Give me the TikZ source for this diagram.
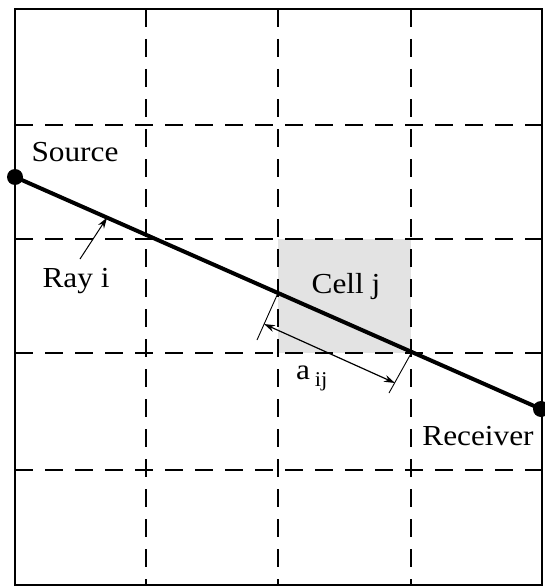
\documentclass[tikz,border=0pt]{standalone}
\usepackage{fontspec}
\setmainfont{Liberation Serif}
\newfontfamily\labelfont[FakeStretch=1.08]{Liberation Serif}
\usetikzlibrary{arrows.meta,calc}
\begin{document}
\begin{tikzpicture}[x=1pt,y=-1pt,
  gridline/.style={line width=1.5pt, dash pattern=on 18pt off 12pt},
  lbl/.style={font=\labelfont\fontsize{29}{32}\selectfont, inner sep=0pt},
  thinarrow/.style={line width=1pt},
  tip/.style={-{Stealth[length=11pt,width=7pt]}}]
\useasboundingbox (0,0) rectangle (544,586);
% shaded cell
\fill[gray!22] (278,239) rectangle (411,353);
% dashed grid
\foreach \x in {146,278,411} \draw[gridline] (\x,9) -- (\x,585);
\foreach \y in {125,239,353,470} \draw[gridline] (15,\y) -- (542,\y);
% border
\draw[line width=1.6pt] (15,9) rectangle (542,585);
% ray
\coordinate (src) at (15,177);
\coordinate (rcv) at (541,409);
\draw[line width=4pt] (src) -- (rcv);
\fill (src) circle (8);
\fill (rcv) circle (8);
% labels
\node[lbl] (srcl) at (75,152) {Source};
\node[lbl] (rayl) at (76,281) {Ray i};
\node[lbl] (celll) at (346,287) {Cell j};
\node[lbl] (rcvl) at (478,436) {Receiver};
\node[lbl, anchor=base west] (aij) at (296,379) {a\,\raisebox{-7pt}{\labelfont\fontsize{21}{23}\selectfont ij}};
% ray pointer
\coordinate (rayp) at ($(src)!0.175!(rcv)$);
\coordinate (rayst) at (80,259);
\draw[thinarrow, tip] (rayst) -- (rayp);
% dimension
\coordinate (p1) at (278,293);
\coordinate (p2) at (411,353.5);
\coordinate (e1) at (257,340);
\coordinate (e2) at (389,393);
\draw[line width=0.9pt] (p1) -- (e1);
\draw[line width=0.9pt] (p2) -- (e2);
\coordinate (d1) at (264,324);
\coordinate (d2) at (395,383);
\draw[line width=1.2pt, {Stealth[length=11pt,width=7pt]}-{Stealth[length=11pt,width=7pt]}] (d1) -- (d2);
\end{tikzpicture}
\end{document}
